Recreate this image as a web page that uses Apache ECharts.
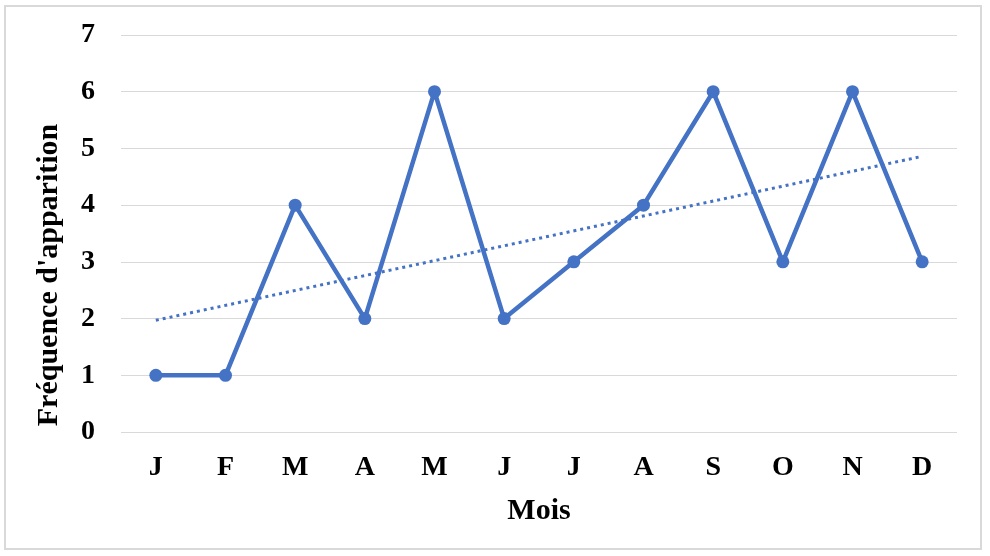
<!DOCTYPE html>
<html>
<head>
<meta charset="utf-8">
<script src="https://cdn.jsdelivr.net/npm/echarts@6/dist/echarts.min.js"></script>
<style>
  html, body { margin: 0; padding: 0; background: #fff; }
  #frame { position: absolute; left: 4px; top: 5px; width: 978px; height: 545px; border: 2px solid #d9d9d9; box-sizing: border-box; }
  #chart { position: absolute; left: 0; top: 0; width: 990px; height: 556px; }
</style>
</head>
<body>
<div id="frame"></div>
<div id="chart"></div>
<script>
// Months of the year (initials)
const months = ['J', 'F', 'M', 'A', 'M', 'J', 'J', 'A', 'S', 'O', 'N', 'D'];
// Monthly occurrence frequency
const frequency = [1, 1, 4, 2, 6, 2, 3, 4, 6, 3, 6, 3];
// Linear trend line: values at first and last month
const trendEnds = [1.97, 4.86];

const trendData = months.map((m, i) => {
  if (i === 0) return trendEnds[0];
  if (i === months.length - 1) return trendEnds[1];
  return null;
});

const font = '"Liberation Serif", "Times New Roman", serif';
const blue = '#4472C4';

const chart = echarts.init(document.getElementById('chart'), null, { renderer: 'canvas' });
chart.setOption({
  animation: false,
  backgroundColor: 'transparent',
  grid: { left: 121, right: 33, top: 35, bottom: 124, containLabel: false },
  graphic: [{
    type: 'text',
    x: 49,
    y: 275,
    rotation: Math.PI / 2,
    style: {
      text: "Fréquence d'apparition",
      fill: '#000',
      font: 'bold 30px ' + font,
      textAlign: 'center',
      textVerticalAlign: 'middle'
    }
  }],
  xAxis: {
    type: 'category',
    data: months,
    boundaryGap: true,
    axisLine: { show: false },
    axisTick: { show: false },
    axisLabel: { color: '#000', fontFamily: font, fontWeight: 'bold', fontSize: 28, margin: 22 },
    name: 'Mois',
    nameLocation: 'middle',
    nameGap: 64,
    nameTextStyle: { color: '#000', fontFamily: font, fontWeight: 'bold', fontSize: 30 }
  },
  yAxis: {
    type: 'value',
    min: 0,
    max: 7,
    interval: 1,
    axisLine: { show: false },
    axisTick: { show: false },
    splitLine: { lineStyle: { color: '#d9d9d9', width: 1 } },
    axisLabel: { color: '#000', fontFamily: font, fontWeight: 'bold', fontSize: 28, margin: 26 }
  },
  series: [
    {
      name: 'Tendance',
      type: 'line',
      data: trendData,
      connectNulls: true,
      symbol: 'none',
      lineStyle: { color: blue, width: 3, type: [3, 4] },
      z: 1
    },
    {
      name: 'Fréquence',
      type: 'line',
      data: frequency,
      symbol: 'circle',
      symbolSize: 13,
      itemStyle: { color: blue },
      lineStyle: { color: blue, width: 4.5 },
      z: 2
    }
  ]
});
</script>
</body>
</html>
